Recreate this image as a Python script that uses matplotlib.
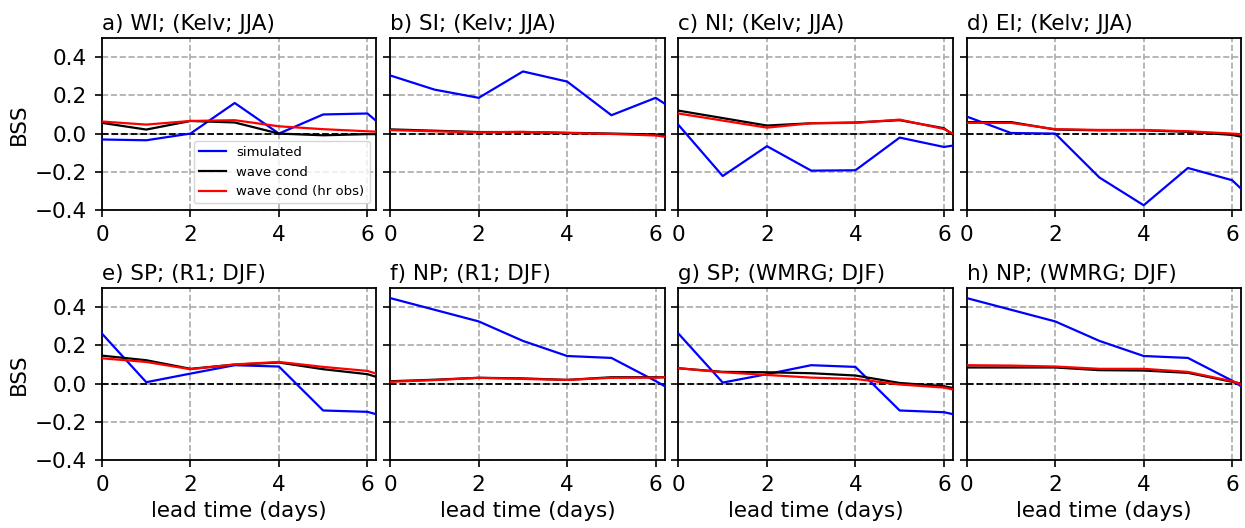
import matplotlib
matplotlib.use("Agg")
import matplotlib.pyplot as plt

# lead time (days); the last point lies beyond the plotted range (clipped at 6.2)
lead = [0, 1, 2, 3, 4, 5, 6, 7]

titles = [
    "a) WI; (Kelv; JJA)", "b) SI; (Kelv; JJA)", "c) NI; (Kelv; JJA)", "d) EI; (Kelv; JJA)",
    "e) SP; (R1; DJF)", "f) NP; (R1; DJF)", "g) SP; (WMRG; DJF)", "h) NP; (WMRG; DJF)",
]

simulated = [
    [-0.031, -0.035, 0.0, 0.16, 0.0, 0.10, 0.105, -0.09],
    [0.304, 0.23, 0.187, 0.325, 0.272, 0.096, 0.187, 0.037],
    [0.045, -0.222, -0.066, -0.194, -0.192, -0.021, -0.07, -0.035],
    [0.089, 0.003, 0.0, -0.23, -0.375, -0.18, -0.244, -0.464],
    [0.261, 0.007, 0.052, 0.096, 0.089, -0.141, -0.148, -0.21],
    [0.447, 0.386, 0.325, 0.223, 0.144, 0.134, 0.013, -0.118],
    [0.261, 0.005, 0.049, 0.096, 0.087, -0.141, -0.15, -0.20],
    [0.447, 0.386, 0.325, 0.223, 0.144, 0.134, 0.015, -0.13],
]

wave_cond = [
    [0.056, 0.021, 0.066, 0.058, 0.0, -0.009, -0.003, -0.003],
    [0.022, 0.015, 0.008, 0.008, 0.004, 0.0, -0.005, -0.04],
    [0.12, 0.081, 0.042, 0.054, 0.058, 0.07, 0.028, -0.14],
    [0.06, 0.06, 0.021, 0.017, 0.017, 0.009, -0.007, -0.052],
    [0.146, 0.122, 0.077, 0.099, 0.11, 0.075, 0.049, -0.021],
    [0.012, 0.02, 0.03, 0.027, 0.019, 0.033, 0.033, 0.033],
    [0.08, 0.061, 0.059, 0.054, 0.042, 0.003, -0.014, -0.059],
    [0.084, 0.084, 0.084, 0.07, 0.068, 0.056, 0.009, -0.036],
]

wave_cond_hr = [
    [0.063, 0.047, 0.066, 0.07, 0.038, 0.023, 0.012, 0.002],
    [0.018, 0.012, 0.006, 0.009, 0.003, -0.002, -0.01, -0.04],
    [0.105, 0.068, 0.031, 0.054, 0.056, 0.073, 0.024, -0.096],
    [0.056, 0.056, 0.023, 0.019, 0.019, 0.012, 0.0, -0.015],
    [0.132, 0.113, 0.075, 0.10, 0.113, 0.087, 0.066, -0.004],
    [0.009, 0.018, 0.03, 0.024, 0.019, 0.03, 0.031, 0.04],
    [0.08, 0.059, 0.045, 0.031, 0.024, -0.005, -0.021, -0.071],
    [0.096, 0.094, 0.089, 0.077, 0.077, 0.061, 0.012, -0.063],
]

plt.rcParams["font.size"] = 15.5

fig, axes = plt.subplots(2, 4, figsize=(12.45, 5.28), dpi=100)
fig.subplots_adjust(left=102 / 1245, right=1241 / 1245, top=1 - 38 / 528,
                    bottom=1 - 460 / 528, wspace=0.051, hspace=0.453)

for i, ax in enumerate(axes.flat):
    ax.plot(lead, simulated[i], color="blue", lw=1.6, label="simulated", zorder=3)
    ax.plot(lead, wave_cond[i], color="black", lw=1.6, label="wave cond", zorder=3)
    ax.plot(lead, wave_cond_hr[i], color="red", lw=1.6, label="wave cond (hr obs)", zorder=3)
    ax.axhline(0, color="black", ls="--", lw=1.3, zorder=2)
    ax.set_xlim(0, 6.2)
    ax.set_ylim(-0.4, 0.5)
    ax.set_xticks([0, 2, 4, 6])
    ax.set_yticks([-0.4, -0.2, 0.0, 0.2, 0.4])
    ax.tick_params(labelsize=15.5, width=1.2, length=5, pad=6)
    ax.grid(True, ls="--", color="#aaaaaa", lw=1.2, zorder=0)
    ax.set_title(titles[i], loc="left", fontsize=15.5)
    for s in ax.spines.values():
        s.set_linewidth(1.3)
    if i % 4 == 0:
        ax.set_ylabel("BSS")
    else:
        ax.set_yticklabels([])
    if i >= 4:
        ax.set_xlabel("lead time (days)")

axes[0, 0].legend(loc="lower right", fontsize=9.5)

fig.savefig("out.png", dpi=100)
